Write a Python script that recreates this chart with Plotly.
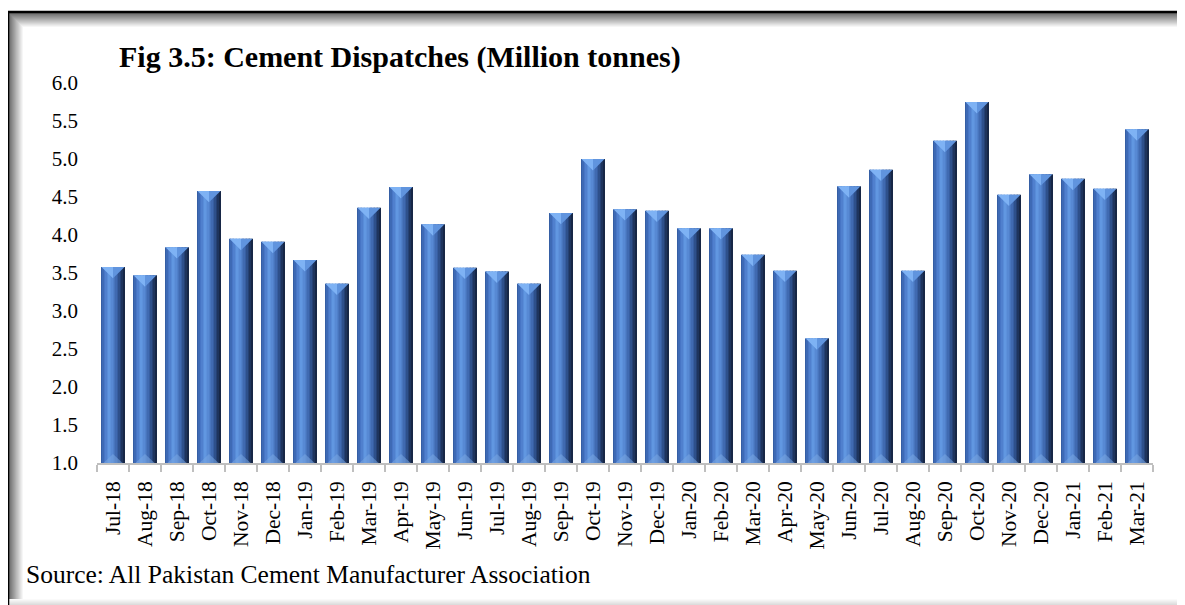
import plotly.graph_objects as go

months = ["Jul-18", "Aug-18", "Sep-18", "Oct-18", "Nov-18", "Dec-18", "Jan-19", "Feb-19",
          "Mar-19", "Apr-19", "May-19", "Jun-19", "Jul-19", "Aug-19", "Sep-19", "Oct-19",
          "Nov-19", "Dec-19", "Jan-20", "Feb-20", "Mar-20", "Apr-20", "May-20", "Jun-20",
          "Jul-20", "Aug-20", "Sep-20", "Oct-20", "Nov-20", "Dec-20", "Jan-21", "Feb-21",
          "Mar-21"]
dispatches = [3.58, 3.47, 3.84, 4.58, 3.95, 3.91, 3.67, 3.36, 4.36, 4.63, 4.14, 3.57,
              3.52, 3.36, 4.29, 5.00, 4.34, 4.32, 4.09, 4.09, 3.74, 3.53, 2.64, 4.64,
              4.86, 3.53, 5.24, 5.75, 4.53, 4.80, 4.74, 4.61, 5.39]
y_ticks = [1.0, 1.5, 2.0, 2.5, 3.0, 3.5, 4.0, 4.5, 5.0, 5.5, 6.0]

title_text = "Fig 3.5: Cement Dispatches (Million tonnes)"
source_text = "Source: All Pakistan Cement Manufacturer Association"

# window geometry; the page body adds an 8px margin, so the figure is drawn 8px in
WIN_W, WIN_H = 1185, 605
OFF = 8
W, H = WIN_W - OFF, WIN_H - OFF
L, R, T, B = 97, 1153.3, 83, 463  # plot area in window pixels
FONT = "Liberation Serif"

idx = list(range(len(months)))
bar_w = 0.72
bevel = 0.15

# horizontal colour stops for the cylinder-like shading
stops = [(0.0, (48, 88, 156)), (0.15, (70, 116, 196)), (0.35, (98, 152, 226)),
         (0.5, (84, 133, 208)), (0.7, (58, 98, 168)), (0.85, (36, 64, 114)),
         (1.0, (20, 33, 58))]


def shade(t):
    for (p0, c0), (p1, c1) in zip(stops, stops[1:]):
        if p0 <= t <= p1:
            f = (t - p0) / (p1 - p0)
            c = [round(a + (b - a) * f) for a, b in zip(c0, c1)]
            return f"rgb({c[0]},{c[1]},{c[2]})"
    return "rgb(20,33,58)"


fig = go.Figure()

n_strips = 16
sw = bar_w / n_strips
for k in range(n_strips):
    fig.add_trace(go.Bar(
        x=idx, y=dispatches,
        width=sw + 0.004, offset=-bar_w / 2 + k * sw,
        marker=dict(color=shade((k + 0.5) / n_strips), line=dict(width=0)),
        showlegend=False, hoverinfo="skip",
    ))

# top bevel triangles (left lighter half, right darker half), faint bottom bevel
lx, ly, rx, ry = [], [], [], []
bx, by = [], []
for i, v in zip(idx, dispatches):
    lx += [i - bar_w / 2, i, i, i - bar_w / 2, None]
    ly += [v, v, v - bevel, v, None]
    rx += [i, i + bar_w / 2, i, i, None]
    ry += [v, v, v - bevel, v, None]
    bx += [i - bar_w / 2 + 0.06, i + bar_w / 2 - 0.06, i, i - bar_w / 2 + 0.06, None]
    by += [1.0, 1.0, 1.0 + 0.12, 1.0, None]

fig.add_trace(go.Scatter(x=lx, y=ly, mode="lines", fill="toself", fillcolor="rgb(126,178,244)",
                         line=dict(width=0), showlegend=False, hoverinfo="skip"))
fig.add_trace(go.Scatter(x=rx, y=ry, mode="lines", fill="toself", fillcolor="rgb(96,148,222)",
                         line=dict(width=0), showlegend=False, hoverinfo="skip"))
fig.add_trace(go.Scatter(x=bx, y=by, mode="lines", fill="toself", fillcolor="rgba(120,165,225,0.55)",
                         line=dict(width=0), showlegend=False, hoverinfo="skip"))


def px(x):
    return (x - L) / (R - L)


def py(y):
    return (B - y) / (B - T)


shapes = []
# frame with inner shadow (window pixel coords)
for d in range(14):
    g = round(110 + d * 10.5)
    col = f"rgb({g},{g},{g})"
    shapes.append(dict(type="line", xref="paper", yref="paper",
                       x0=px(9 + d), x1=px(WIN_W), y0=py(13.5 + d), y1=py(13.5 + d),
                       line=dict(color=col, width=1)))
    shapes.append(dict(type="line", xref="paper", yref="paper",
                       x0=px(9.5 + d), x1=px(9.5 + d), y0=py(13 + d), y1=py(WIN_H),
                       line=dict(color=col, width=1)))
for d in range(6):
    g = round(250 - d * 6)
    col = f"rgb({g},{g},{g})"
    shapes.append(dict(type="line", xref="paper", yref="paper",
                       x0=px(9), x1=px(WIN_W), y0=py(599.5 + d), y1=py(599.5 + d),
                       line=dict(color=col, width=1)))
shapes.append(dict(type="line", xref="paper", yref="paper",
                   x0=px(1183.5), x1=px(1183.5), y0=py(13), y1=py(WIN_H),
                   line=dict(color="rgb(244,244,244)", width=2)))
shapes.append(dict(type="line", xref="paper", yref="paper",
                   x0=px(7), x1=px(WIN_W), y0=py(12), y1=py(12),
                   line=dict(color="black", width=2.5)))
shapes.append(dict(type="line", xref="paper", yref="paper",
                   x0=px(8), x1=px(8), y0=py(11), y1=py(WIN_H),
                   line=dict(color="black", width=2.5)))

fig.update_layout(
    width=W, height=H,
    margin=dict(l=L - OFF, r=WIN_W - R, t=T - OFF, b=WIN_H - B),
    barmode="overlay",
    plot_bgcolor="white", paper_bgcolor="white",
    font=dict(family=FONT, color="black"),
    showlegend=False,
    shapes=shapes,
    annotations=[
        dict(text=f"<b>{title_text}</b>", xref="paper", yref="paper", x=px(117), y=py(57),
             xanchor="left", yanchor="middle", showarrow=False,
             font=dict(family=FONT, size=30, color="black")),
        dict(text=source_text, xref="paper", yref="paper", x=px(24), y=py(574),
             xanchor="left", yanchor="middle", showarrow=False,
             font=dict(family=FONT, size=25.5, color="black")),
    ],
)

fig.update_xaxes(
    range=[-0.5, len(months) - 0.5],
    tickmode="array", tickvals=idx, ticktext=months, tickangle=-90,
    ticks="", ticklabelstandoff=8,
    tickfont=dict(family=FONT, size=21.5, color="black"),
    showline=True, linecolor="#BFBFBF", linewidth=1.5,
    showgrid=False, zeroline=False,
    minor=dict(tickmode="array", tickvals=[i - 0.5 for i in range(len(months) + 1)],
               ticks="outside", ticklen=7, tickcolor="#BFBFBF", tickwidth=1.5, showgrid=False),
)
fig.update_yaxes(
    range=[1, 6], tickmode="array", tickvals=y_ticks,
    ticktext=[f"{v:.1f}" for v in y_ticks],
    ticks="", ticklabelstandoff=18,
    tickfont=dict(family=FONT, size=21, color="black"),
    showline=False, showgrid=False, zeroline=False,
)

fig.write_html("out.html")
